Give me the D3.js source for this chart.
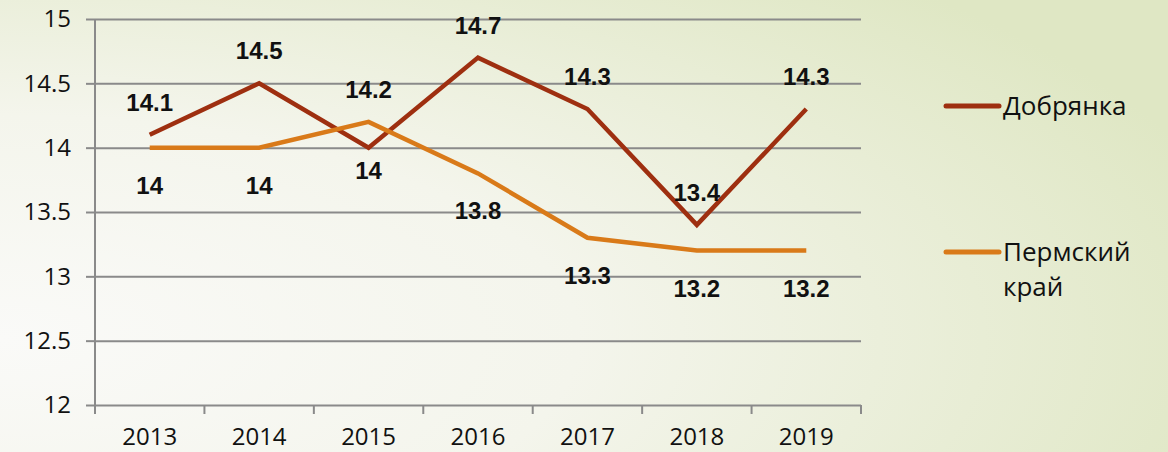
<!DOCTYPE html>
<html>
<head>
<meta charset="utf-8">
<script src="https://cdn.jsdelivr.net/npm/d3@7"></script>
<style>
  body { margin: 0; }
  svg { display: block; }
</style>
</head>
<body>
<script>
// chart values
const years = ["2013", "2014", "2015", "2016", "2017", "2018", "2019"];
const dobryanka = [14.1, 14.5, 14.0, 14.7, 14.3, 13.4, 14.3];
const permKrai = [14.0, 14.0, 14.2, 13.8, 13.3, 13.2, 13.2];
const seriesNames = ["Добрянка", "Пермский край"];
const yTicks = [12, 12.5, 13, 13.5, 14, 14.5, 15];

// label placement (above / below the point)
const dobryankaPos = ["up", "up", "down", "up", "up", "up", "up"];
const permPos = ["down", "down", "up", "down", "down", "down", "down"];

const width = 1168, height = 452;
const margin = {top: 19, right: 307, bottom: 47, left: 95};
const colors = ["#9e2f10", "#d97a19"];

const svg = d3.select("body").append("svg")
    .attr("width", width)
    .attr("height", height);

const defs = svg.append("defs");
const grad = defs.append("radialGradient")
    .attr("id", "bg")
    .attr("cx", "0%").attr("cy", "75%").attr("r", "110%")
    .attr("gradientUnits", "objectBoundingBox");
grad.append("stop").attr("offset", "0%").attr("stop-color", "#fafaf8");
grad.append("stop").attr("offset", "45%").attr("stop-color", "#f4f5ec");
grad.append("stop").attr("offset", "100%").attr("stop-color", "#dfe7c4");

svg.append("rect")
    .attr("width", width)
    .attr("height", height)
    .attr("fill", "url(#bg)");

const x = d3.scaleBand()
    .domain(years)
    .range([margin.left, width - margin.right]);

const y = d3.scaleLinear()
    .domain([12, 15])
    .range([height - margin.bottom, margin.top]);

// gridlines + y axis
svg.append("g")
    .attr("transform", `translate(${margin.left},0)`)
    .call(d3.axisLeft(y)
        .tickValues(yTicks)
        .tickSize(9)
        .tickPadding(15)
        .tickFormat(d => String(d)))
    .call(g => g.select(".domain").remove())
    .call(g => g.selectAll(".tick line")
        .attr("stroke", "#8a8a8a")
        .attr("stroke-width", 2))
    .call(g => g.selectAll(".tick").append("line")
        .attr("x1", 0)
        .attr("x2", width - margin.right - margin.left)
        .attr("stroke", "#8a8a8a")
        .attr("stroke-width", 2))
    .call(g => g.selectAll(".tick text")
        .attr("fill", "#111")
        .attr("font-family", "'Open Sans', sans-serif")
        .attr("font-size", 24));

// vertical axis line
svg.append("line")
    .attr("x1", margin.left).attr("x2", margin.left)
    .attr("y1", margin.top).attr("y2", height - margin.bottom)
    .attr("stroke", "#8a8a8a")
    .attr("stroke-width", 2);

// x axis: ticks at category boundaries
const xAxisG = svg.append("g")
    .attr("transform", `translate(0,${height - margin.bottom})`);

const boundaries = years.map(d => x(d)).concat([x.range()[1]]);
xAxisG.selectAll("line.tk")
  .data(boundaries)
  .join("line")
    .attr("class", "tk")
    .attr("x1", d => d).attr("x2", d => d)
    .attr("y1", 0).attr("y2", 9)
    .attr("stroke", "#8a8a8a")
    .attr("stroke-width", 2);

xAxisG.selectAll("text")
  .data(years)
  .join("text")
    .attr("x", d => x(d) + x.bandwidth() / 2)
    .attr("y", 40)
    .attr("text-anchor", "middle")
    .attr("fill", "#111")
    .attr("font-family", "'Open Sans', sans-serif")
    .attr("font-size", 24)
    .text(d => d);

// lines
const line = d3.line()
    .x((d, i) => x(years[i]) + x.bandwidth() / 2)
    .y(d => y(d));

const allSeries = [dobryanka, permKrai];
const positions = [dobryankaPos, permPos];

allSeries.forEach((vals, si) => {
  svg.append("path")
      .datum(vals)
      .attr("fill", "none")
      .attr("stroke", colors[si])
      .attr("stroke-width", 4.5)
      .attr("stroke-linejoin", "miter")
      .attr("d", line);
});

// data labels
allSeries.forEach((vals, si) => {
  svg.append("g").selectAll("text")
    .data(vals)
    .join("text")
      .attr("x", (d, i) => x(years[i]) + x.bandwidth() / 2)
      .attr("y", (d, i) => {
        const p = positions[si][i];
        if (p === "up") return y(d) - 24;
        return y(d) + (si === 0 ? 31 : 46);
      })
      .attr("text-anchor", "middle")
      .attr("font-family", "'Liberation Sans', Arial, sans-serif")
      .attr("font-weight", "bold")
      .attr("font-size", 24)
      .attr("fill", "#111")
      .text(d => String(d));
});

// legend
const legendY = [106, 252];
const legend = svg.append("g");
seriesNames.forEach((name, i) => {
  legend.append("line")
      .attr("x1", 946).attr("x2", 999)
      .attr("y1", legendY[i]).attr("y2", legendY[i])
      .attr("stroke", colors[i])
      .attr("stroke-width", 5)
      .attr("stroke-linecap", "round");
  const words = name === "Пермский край" ? ["Пермский", "край"] : [name];
  const t = legend.append("text")
      .attr("x", 1003)
      .attr("y", legendY[i] + 9)
      .attr("font-family", "'Open Sans', sans-serif")
      .attr("font-size", 26)
      .attr("fill", "#111");
  words.forEach((w, j) => {
    t.append("tspan")
        .attr("x", 1003)
        .attr("dy", j === 0 ? 0 : 35)
        .text(w);
  });
});
</script>
</body>
</html>
